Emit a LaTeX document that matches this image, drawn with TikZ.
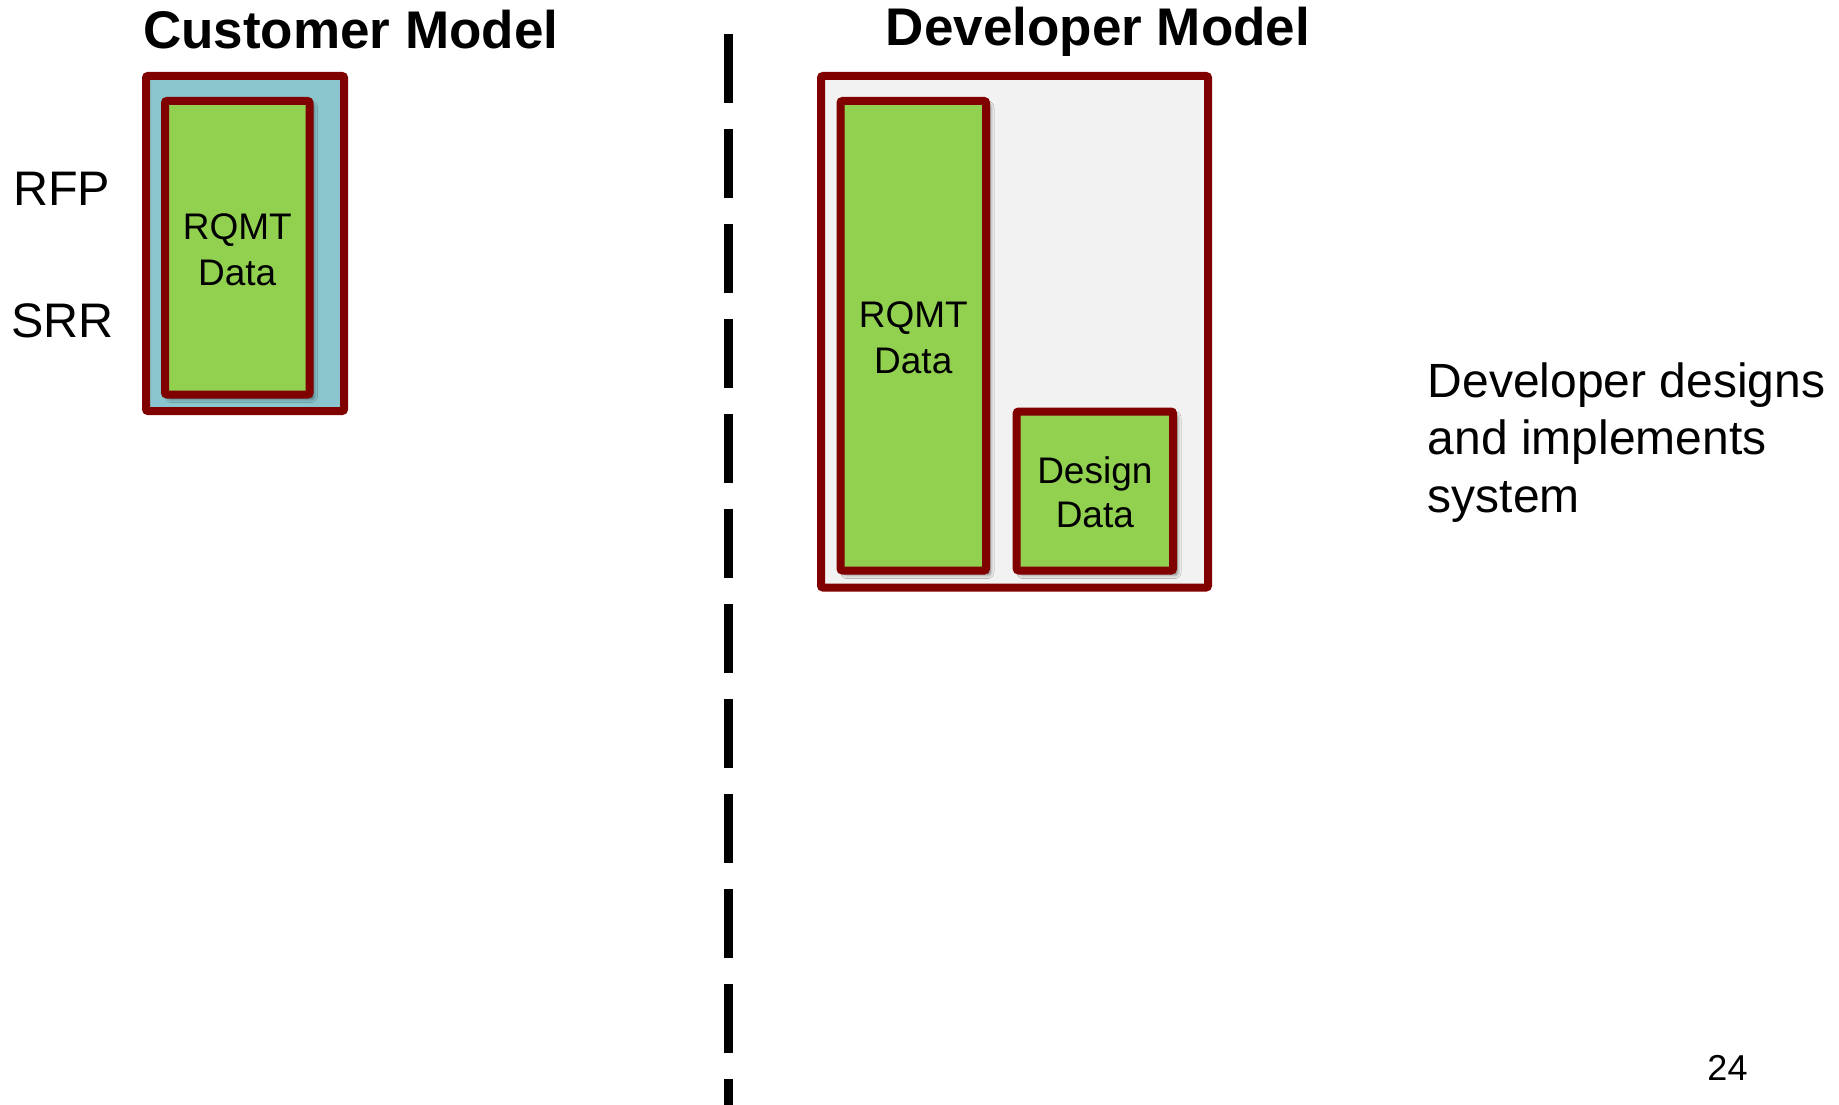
\documentclass[tikz,border=0pt]{standalone}
\usepackage{fontspec}
\setmainfont{Liberation Sans}
\usetikzlibrary{shadows.blur}
\definecolor{frame}{RGB}{128,0,0}
\definecolor{leaf}{RGB}{146,208,80}
\definecolor{aqua}{RGB}{139,198,206}
\definecolor{paper}{RGB}{242,242,242}
\begin{document}
\begin{tikzpicture}[x=1pt,y=-1pt,
  box/.style={draw=frame, line width=8pt, rounded corners=2pt, inner sep=0pt,
    outer sep=0pt},
  databox/.style={box, fill=leaf,
    blur shadow={shadow xshift=4pt, shadow yshift=-4pt,
      shadow blur radius=4pt, shadow opacity=60}},
  boxtext/.style={align=center, inner sep=0pt, font=\fontsize{37}{46}\selectfont},
  title/.style={font=\bfseries\fontsize{53}{60}\selectfont, anchor=base, inner sep=0pt},
  say/.style={font=\fontsize{48.5}{57.5}\selectfont, anchor=base west, inner sep=0pt},
  divider/.style={line width=8.7pt, dash pattern=on 69pt off 26pt}]
\useasboundingbox (0,0) rectangle (1839,1105);

% customer side
\node[title] (ctitle) at (350.7,49) {Customer Model};
\node[box, fill=aqua, minimum width=198pt, minimum height=335pt] (cmodel) at (245,243.5) {};
\node[databox, minimum width=144.5pt, minimum height=293.5pt] (crqmt) at (237.25,247.75) {};
\node[boxtext] (crqmttext) at ([yshift=-2.5pt]crqmt.center) {RQMT\\Data};
\node[say] (rfp) at (13,205) {RFP};
\node[say] (srr) at (11,337.5) {SRR};

% divider between the two models
\coordinate (divtop) at (728.3,34);
\coordinate (divbot) at (728.3,1105);
\draw[divider] (divtop) -- (divbot);

% developer side
\node[title] (dtitle) at (1098,45.5) {Developer Model};
\node[box, fill=paper, minimum width=387pt, minimum height=511.5pt] (dmodel) at (1014.5,331.75) {};
\node[databox, minimum width=145.5pt, minimum height=469.5pt] (drqmt) at (913.25,335.75) {};
\node[boxtext] (drqmttext) at ([yshift=-2.5pt]drqmt.center) {RQMT\\Data};
\node[databox, minimum width=156.3pt, minimum height=159pt] (ddesign) at (1094.85,491) {};
\node[boxtext, font=\fontsize{37}{44}\selectfont] (ddesigntext) at ([yshift=-1.5pt]ddesign.center) {Design\\Data};

\node[say, font=\fontsize{48}{57.5}\selectfont, align=left] (note) at (1427.5,512) {Developer designs\\and implements\\system};

\node[font=\fontsize{36}{40}\selectfont, anchor=base, inner sep=0pt] (page) at (1727.5,1080) {24};
\end{tikzpicture}
\end{document}
